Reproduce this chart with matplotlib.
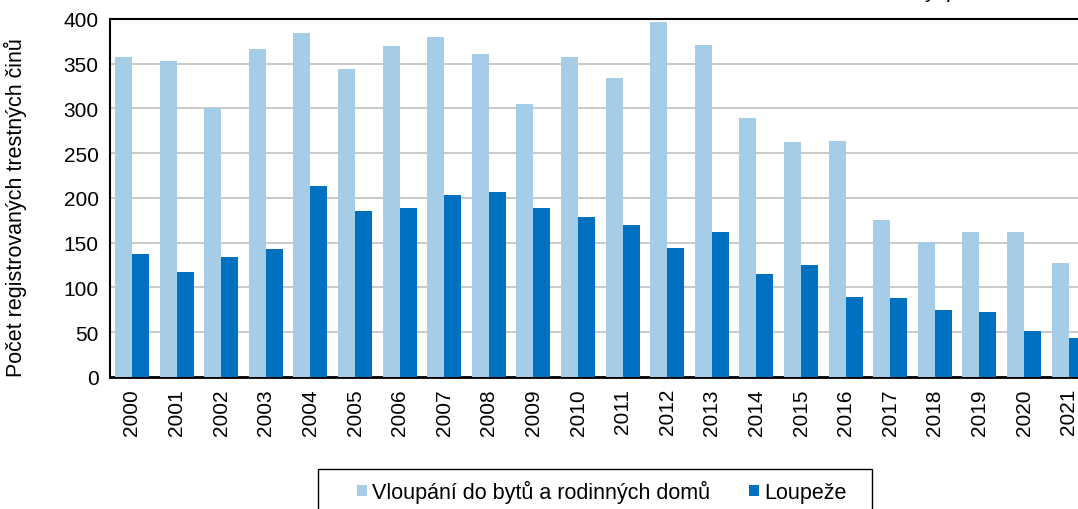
import numpy as np
import matplotlib
matplotlib.use('Agg')
import matplotlib.pyplot as plt
from matplotlib.patches import Rectangle

plt.rcParams['font.family'] = ['Liberation Sans', 'DejaVu Sans']

# data
years = [str(y) for y in range(2000, 2022)]
vloupani = [358, 353, 301, 366, 384, 344, 370, 380, 361, 305, 358, 334,
            397, 371, 289, 263, 264, 175, 151, 162, 162, 127]
loupeze = [137, 117, 134, 143, 213, 185, 189, 203, 207, 189, 179, 170,
           144, 162, 115, 125, 89, 88, 75, 73, 51, 43]

c_light = '#a6cde8'
c_dark = '#0070c0'

fig = plt.figure(figsize=(10.78, 5.10), dpi=100)
left = 109.7 / 1078
ax = fig.add_axes([left, 0.259, 1 - left, 0.7018])

x = np.arange(len(years))
w = 0.38
ax.bar(x - w/2, vloupani, w, color=c_light, label='Vloupání do bytů a rodinných domů', zorder=3)
ax.bar(x + w/2, loupeze, w, color=c_dark, label='Loupeže', zorder=3)

ax.set_ylim(0, 400)
ax.set_yticks(range(0, 401, 50))
ax.set_xlim(-0.5, -0.5 + (1078 - 109.7) / 44.6)
ax.set_xticks(x)
ax.set_xticklabels(years, rotation=90, fontsize=15)
ax.tick_params(axis='y', labelsize=15, length=0, pad=8)
ax.tick_params(axis='x', length=0, pad=8)
ax.yaxis.grid(True, color='#c0c0c0', linewidth=1.2, zorder=0)
ax.set_axisbelow(True)
for s in ['top', 'left']:
    ax.spines[s].set_color('black')
    ax.spines[s].set_linewidth(1.5)
ax.spines['bottom'].set_linewidth(2)
ax.spines['right'].set_visible(False)

ax.set_ylabel('Počet registrovaných trestných činů', fontsize=15.5)
ax.yaxis.set_label_coords(-(109.7 - 27) / 968.3, 0.476)

# legend box (bottom is cut by the figure edge, as in the reference)
fig.patches.append(Rectangle((318/1078, -0.05), (872-318)/1078, 0.05 + 40/510,
                             transform=fig.transFigure, fill=False,
                             edgecolor='black', linewidth=1))
leg = fig.legend(loc='upper left', bbox_to_anchor=(357/1078, 1 - 481/510),
                 ncol=2, fontsize=15.5, frameon=False,
                 handlelength=0.45, handleheight=0.45, handletextpad=0.25,
                 columnspacing=1.8, borderpad=0, borderaxespad=0)

# clipped title at the very top
fig.text(924/1078, 1 + 1.5/510, 'y  p', fontsize=15, va='baseline', ha='left')

fig.savefig('out.png', dpi=100)
